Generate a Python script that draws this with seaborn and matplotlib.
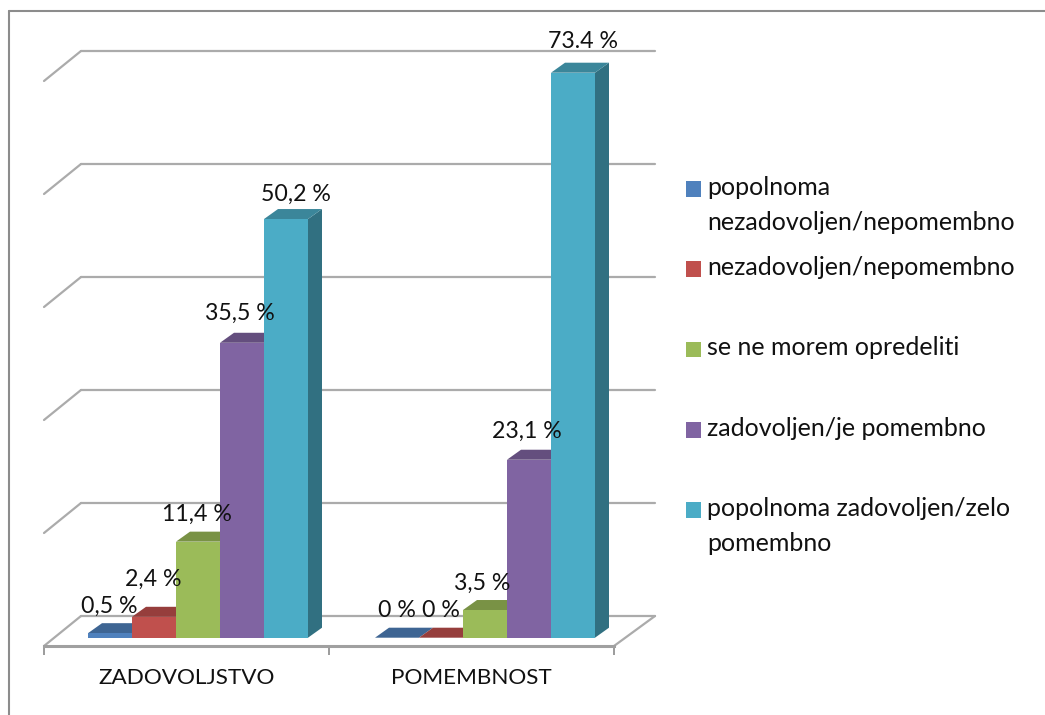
import matplotlib
matplotlib.use("Agg")
import matplotlib.pyplot as plt
from matplotlib.lines import Line2D
from matplotlib.patches import Polygon
import pandas as pd
import seaborn as sns

W, H = 1045, 715

categories = ["ZADOVOLJSTVO", "POMEMBNOST"]
series = ["popolnoma\nnezadovoljen/nepomembno",
          "nezadovoljen/nepomembno\n ",
          "se ne morem opredeliti\n ",
          "zadovoljen/je pomembno\n ",
          "popolnoma zadovoljen/zelo\npomembno"]
# bar heights, on the chart's hidden 0-100 scale
zadovoljstvo = [0.8, 3.7, 17.0, 52.2, 74.1]
pomembnost = [0.0, 0.0, 4.9, 31.5, 100.0]
# printed labels
labels_zadovoljstvo = ["0,5 %", "2,4 %", "11,4 %", "35,5 %", "50,2 %"]
labels_pomembnost = ["0 %", "0 %", "3,5 %", "23,1 %", "73.4 %"]
colors = ["#4F81BD", "#C0504D", "#9BBB59", "#8064A2", "#4BACC6"]
grid_values = [0, 20, 40, 60, 80, 100]

df = pd.DataFrame({
    "category": [c for c in categories for _ in series],
    "series": series * 2,
    "height": zadovoljstvo + pomembnost,
})

sns.set_theme(style="white")
plt.rcParams["font.family"] = ["Lato", "DejaVu Sans"]
TXT = "#111111"
FS_AXIS = 16.2
FS_LABEL = 16.7
FS_LEG = 18

fig = plt.figure(figsize=(W / 100, H / 100), dpi=100, facecolor="white")
# axes: x from 44 to 614 px, floor front edge at y=646 px
PX = 287.0     # pixels per category step
PY = 5.65      # pixels per value unit
X0 = 198.0     # pixel of first category centre
Y0 = 637.7     # pixel of value zero
L, R, B, T = 44, 614, 646, 46
ax = fig.add_axes([L / W, 1 - B / H, (R - L) / W, (B - T) / H])

sns.barplot(data=df, x="category", y="height", hue="series", hue_order=series,
            order=categories, palette=colors, width=220 / PX, gap=0,
            saturation=1, ax=ax, legend=True, linewidth=0, zorder=5)


def dx(px):
    return px / PX


def dy(px):
    return px / PY


def shade(c, f):
    r, g, b = matplotlib.colors.to_rgb(c)
    return (r * f, g * f, b * f)


ax.set_xlim((L - X0) / PX, (R - X0) / PX)
ax.set_ylim((Y0 - B) / PY, (Y0 - T) / PY)
ax.set_ylabel("")
ax.set_xlabel("")
ax.set_yticks([])
for s in ["left", "right", "top"]:
    ax.spines[s].set_visible(False)
GR = "#ABABAB"
ax.spines["bottom"].set_color("#A0A0A0")
ax.spines["bottom"].set_linewidth(2.2)

# category boundary ticks and centred category names
xmin, xmax = ax.get_xlim()
ax.set_xticks([xmin, (xmin + xmax) / 2, xmax], ["", "", ""])
ax.set_xticks([xmin + (xmax - xmin) / 4, xmin + 3 * (xmax - xmin) / 4], categories, minor=True)
ax.tick_params(axis="x", which="major", length=6.5, width=1.2, color="#8A8A8A", bottom=True)
ax.tick_params(axis="x", which="minor", length=0, pad=16, labelsize=FS_AXIS, labelcolor=TXT, bottom=False)

# back-wall gridlines plus the slanted left wall and floor
DEPTH_X, DEPTH_Y = 37, 30           # px depth of the chart box
BACK = (Y0 - 616) / PY              # value height of the back floor line
left, right = xmin + dx(DEPTH_X), xmin + dx(655 - L)
for v in grid_values:
    y = BACK + v
    ax.plot([left, right], [y, y], color=GR, lw=1.6, zorder=1, clip_on=False)
    ax.plot([xmin, left], [y - dy(DEPTH_Y), y], color=GR, lw=1.6, zorder=1, clip_on=False)
ax.plot([xmax, right], [BACK - dy(DEPTH_Y), BACK], color=GR, lw=1.6, zorder=1, clip_on=False)

# 3-D tops and sides for each bar, plus value labels
BAR_DX, BAR_DY = dx(14), dy(10)
containers = list(ax.containers)
offsets = [[(-1, -1), (-1, 10), (-1, 0), (-2, 2), (10, -3)],
           [(0, 0), (0, 0), (-3, -1), (-2, 1), (10, 4)]]
all_labels = [labels_zadovoljstvo, labels_pomembnost]
for si, cont in enumerate(containers):
    col = colors[si]
    for ci, bar in enumerate(cont.patches):
        bar.set_zorder(5 + si)
        x0, w, h = bar.get_x(), bar.get_width(), bar.get_height()
        x1 = x0 + w
        ax.add_patch(Polygon([(x0, h), (x1, h), (x1 + BAR_DX, h + BAR_DY), (x0 + BAR_DX, h + BAR_DY)],
                             closed=True, fc=shade(col, 0.78), ec="none", zorder=4.6 + si, clip_on=False))
        ax.add_patch(Polygon([(x1, 0), (x1 + BAR_DX, BAR_DY), (x1 + BAR_DX, h + BAR_DY), (x1, h)],
                             closed=True, fc=shade(col, 0.65), ec="none", zorder=4.5 + si, clip_on=False))
        ox, oy = offsets[ci][si]
        ax.annotate(all_labels[ci][si], (x0 + w / 2, h), xytext=(ox * 0.72, (oy + 17) * 0.72),
                    textcoords="offset points", ha="center", va="bottom",
                    fontsize=FS_LABEL, color=TXT, zorder=20, annotation_clip=False)

# legend
handles, labs = ax.get_legend_handles_labels()
leg = ax.legend(handles, labs, loc="upper left", bbox_to_anchor=(686 / W, 1 - 176 / H),
                bbox_transform=fig.transFigure, frameon=False, fontsize=FS_LEG,
                handlelength=0.6, handleheight=0.6, handletextpad=0.24, labelspacing=0.89,
                borderpad=0, borderaxespad=0, alignment="left")
for t in leg.get_texts():
    t.set_color(TXT)
    t.set_linespacing(1.63)
for h in leg.legend_handles:
    h.set_y(h.get_y() + 12)   # line the swatch up with the first text line

# chart-area frame: only the top and left edges show in the crop
for xs, ys in [((9, W), (11, 11)), ((9, 9), (11, H))]:
    fig.add_artist(Line2D([x / W for x in xs], [1 - y / H for y in ys],
                          transform=fig.transFigure, color="#8C8C8C", lw=1.5))

fig.savefig("out.png", dpi=100)
